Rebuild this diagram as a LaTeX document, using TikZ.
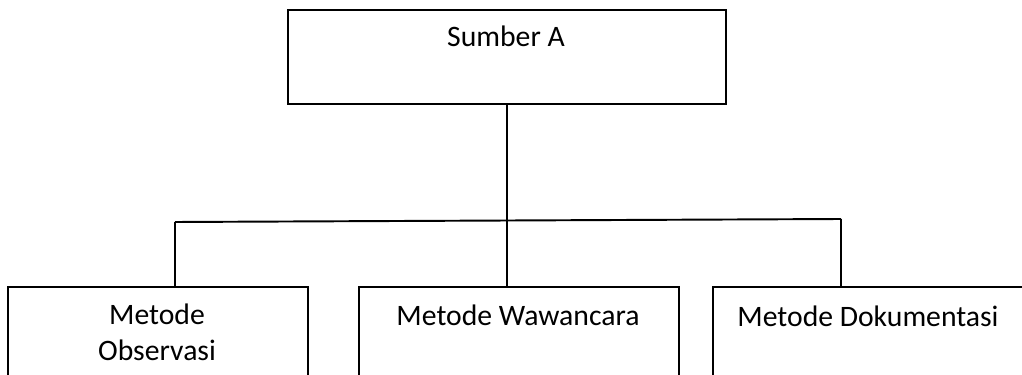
\documentclass[tikz,border=0pt]{standalone}
\usepackage{fontspec}
\setmainfont{Carlito}
\begin{document}
\begin{tikzpicture}[
    x=0.02cm, y=-0.02cm,
    box/.style={rectangle, draw, line width=1.1pt, anchor=north west, inner sep=0pt},
    boxtext/.style={anchor=base, align=center, font=\fontsize{16.9}{20}\selectfont},
    line/.style={line width=1.1pt}
]
    \clip (0,0) rectangle (1022,375);

    % Source
    \node[box, minimum width=8.76cm, minimum height=1.88cm] (src) at (287,9) {};
    \node[boxtext] (srctext) at (506,47) {Sumber A};

    % Methods
    \node[box, minimum width=6cm, minimum height=1.78cm] (obs) at (7,286) {};
    \node[box, minimum width=6.4cm, minimum height=1.78cm] (wwc) at (358,286) {};
    \node[box, minimum width=6.26cm, minimum height=1.78cm] (dok) at (712,286) {};
    \node[boxtext] (obstext) at (157,360) {Metode\\Observasi};
    \node[boxtext] (wwctext) at (518,325) {Metode Wawancara};
    \node[boxtext] (doktext) at (868,326) {Metode Dokumentasi};

    % Branches
    \coordinate (jl) at (175,222);
    \coordinate (jr) at (841,219);
    \draw[line] (src.south) -- (src.south |- wwc.north);
    \draw[line] (jl) -- (jr);
    \draw[line] (jl) -- (jl |- obs.north);
    \draw[line] (jr) -- (jr |- dok.north);
\end{tikzpicture}
\end{document}
